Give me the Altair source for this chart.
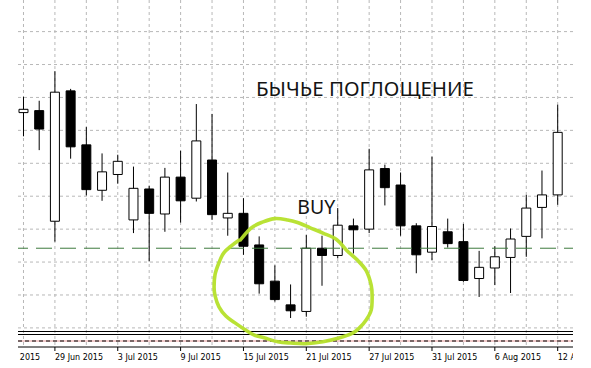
import altair as alt
import pandas as pd

# ---------------- data ----------------
dates = ["25 Jun", "26 Jun", "29 Jun", "30 Jun", "1 Jul", "2 Jul", "3 Jul", "6 Jul",
         "7 Jul", "8 Jul", "9 Jul", "10 Jul", "13 Jul", "14 Jul", "15 Jul", "16 Jul",
         "17 Jul", "20 Jul", "21 Jul", "22 Jul", "23 Jul", "24 Jul", "27 Jul", "28 Jul",
         "29 Jul", "30 Jul", "31 Jul", "3 Aug", "4 Aug", "5 Aug", "6 Aug", "7 Aug",
         "10 Aug", "11 Aug", "12 Aug"]
opens = [1.1127, 1.1130, 1.0962, 1.1160, 1.1078, 1.1009, 1.1033, 1.0964, 1.1011, 1.0973,
         1.1029, 1.0997, 1.1055, 1.0967, 1.0974, 1.0926, 1.0871, 1.0835, 1.0825, 1.0921,
         1.0910, 1.0955, 1.0950, 1.1042, 1.1017, 1.0955, 1.0915, 1.0946, 1.0931, 1.0875,
         1.0891, 1.0907, 1.0939, 1.0983, 1.1002]
highs = [1.1151, 1.1145, 1.1190, 1.1163, 1.1105, 1.1065, 1.1063, 1.1045, 1.1016, 1.1043,
         1.1069, 1.1140, 1.1125, 1.1036, 1.0997, 1.0939, 1.0895, 1.0866, 1.0941, 1.0940,
         1.0982, 1.0966, 1.1072, 1.1048, 1.1036, 1.0959, 1.1060, 1.0966, 1.0958, 1.0917,
         1.0924, 1.0951, 1.1002, 1.1039, 1.1139]
lows = [1.1091, 1.1070, 1.0931, 1.1057, 1.1001, 1.0993, 1.1019, 1.0944, 1.0901, 1.0946,
        1.0960, 1.0992, 1.0964, 1.0940, 1.0911, 1.0852, 1.0840, 1.0815, 1.0817, 1.0864,
        1.0906, 1.0913, 1.0944, 1.0986, 1.0940, 1.0883, 1.0903, 1.0922, 1.0870, 1.0847,
        1.0865, 1.0853, 1.0908, 1.0936, 1.0987]
closes = [1.1132, 1.1102, 1.1158, 1.1075, 1.1010, 1.1037, 1.1053, 1.1012, 1.0974, 1.1029,
          1.0993, 1.1084, 1.0972, 1.0974, 1.0924, 1.0867, 1.0843, 1.0826, 1.0921, 1.0910,
          1.0956, 1.0949, 1.1040, 1.1013, 1.0955, 1.0911, 1.0954, 1.0928, 1.0872, 1.0892,
          1.0908, 1.0935, 1.0982, 1.1002, 1.1097]

# date-axis labels (candle index of each label) and grid levels
label_pos = [-2, 2, 6, 10, 14, 18, 22, 26, 30, 34]
label_text = ["23 Jun 2015", "29 Jun 2015", "3 Jul 2015", "9 Jul 2015", "15 Jul 2015",
              "21 Jul 2015", "27 Jul 2015", "31 Jul 2015", "6 Aug 2015", "12 Aug 2015"]
grid_pos = [0, 2, 4, 6, 8, 10, 12, 14, 16, 18, 20, 22, 24, 26, 28, 30, 32, 34]
price_grid = [1.080, 1.085, 1.090, 1.095, 1.100, 1.105, 1.110, 1.115, 1.120, 1.125]

support_level = [1.0921]

# hand-drawn highlight loop (candle index, price)
loop_x = [13.75, 14.5, 15.25, 16.0, 16.81, 17.44, 18.25, 19.06, 19.94, 20.56, 21.25,
          21.81, 22.13, 22.19, 22.13, 21.81, 21.38, 20.94, 20.13, 19.06, 17.94, 17.0,
          16.19, 15.31, 14.69, 14.06, 13.44, 12.88, 12.44, 12.19, 12.13, 12.19, 12.44,
          12.75, 13.25, 13.75]
loop_y = [1.0932, 1.0952, 1.0961, 1.0966, 1.0964, 1.0960, 1.0952, 1.0944, 1.0934, 1.0918,
          1.0903, 1.0887, 1.0865, 1.0847, 1.0827, 1.0812, 1.0800, 1.0792, 1.0785, 1.0779,
          1.0776, 1.0777, 1.0779, 1.0785, 1.0789, 1.0798, 1.0808, 1.0818, 1.0832, 1.0849,
          1.0862, 1.0881, 1.0899, 1.0914, 1.0925, 1.0934]

title_text = "БЫЧЬЕ ПОГЛОЩЕНИЕ"
buy_text = "BUY"

# ---------------- tables ----------------
df = pd.DataFrame({"idx": list(range(len(dates))), "date": dates,
                   "o": opens, "h": highs, "l": lows, "c": closes})
vgrid_df = pd.DataFrame({"g": grid_pos})
hgrid_df = pd.DataFrame({"p": price_grid})
lab_df = pd.DataFrame({"pos": label_pos, "txt": label_text})
sup_df = pd.DataFrame({"price": support_level})
loop_df = pd.DataFrame({"lx": loop_x, "ly": loop_y, "seq": list(range(len(loop_x)))})
one = pd.DataFrame({"k": [0]})

W, H = 555, 347
xscale = alt.Scale(domain=[-0.03125, 34.65625], nice=False, zero=False)
yscale = alt.Scale(domain=[1.0771, 1.1298], nice=False, zero=False)


def X(field):
    return alt.X(field, type="quantitative", scale=xscale, axis=None)


def Y(field):
    return alt.Y(field, type="quantitative", scale=yscale, axis=None)


GRID = "#b8b8b8"
vgrid = alt.Chart(vgrid_df).mark_rule(color=GRID, strokeWidth=1, strokeDash=[3, 3]).encode(
    x=X("g"), y=alt.value(0), y2=alt.value(H))
hgrid = alt.Chart(hgrid_df).mark_rule(color=GRID, strokeWidth=1, strokeDash=[3, 3]).encode(
    y=Y("p"))

wicks = alt.Chart(df).mark_rule(color="#000000", strokeWidth=1, clip=True).encode(
    x=X("idx"), y=Y("l"), y2="h")

bodies = alt.Chart(df).mark_bar(stroke="#000000", strokeWidth=1, size=9, clip=True).encode(
    x=X("idx"), y=Y("o"), y2="c",
    fill=alt.condition("datum.c > datum.o", alt.value("#ffffff"), alt.value("#000000")),
)

support = alt.Chart(sup_df).mark_rule(color="#3d7a3d", strokeWidth=1,
                                      strokeDash=[16, 8], strokeDashOffset=7).encode(
    y=Y("price"))


def hline(ypix, color, dash=None, width=1):
    kw = dict(color=color, strokeWidth=width)
    if dash:
        kw["strokeDash"] = dash
    return alt.Chart(one).mark_rule(**kw).encode(
        x=alt.value(0), x2=alt.value(W), y=alt.value(ypix))


sub_lines = [
    hline(331.5, "#000000"),
    hline(334.5, "#000000"),
    hline(341, "#e79a9a"),
    hline(341, "#000000", dash=[4, 3]),
    hline(347, "#000000"),          # time-axis line
]

# time axis: ticks and labels placed through the x scale
ticks = alt.Chart(lab_df).mark_rule(color="#000000", strokeWidth=1).encode(
    x=X("pos"), y=alt.value(347), y2=alt.value(351))
labels = alt.Chart(lab_df).mark_text(font="DejaVu Sans", fontSize=8, color="#000000",
                                     align="left", baseline="alphabetic").encode(
    x=X("pos"), y=alt.value(359.5), text="txt:N")

loop = alt.Chart(loop_df).mark_line(color="#b5e02a", strokeWidth=3.6,
                                    interpolate="cardinal", opacity=0.95).encode(
    x=X("lx"), y=Y("ly"), order="seq:Q")

title = alt.Chart(one).mark_text(text=title_text, font="Noto Sans", fontSize=20.5,
                                 color="#141414", align="center",
                                 baseline="alphabetic").encode(
    x=alt.value(347), y=alt.value(95.5))
buy = alt.Chart(one).mark_text(text=buy_text, font="Noto Sans", fontSize=19.5,
                               color="#141414", align="center",
                               baseline="alphabetic").encode(
    x=alt.value(298.3), y=alt.value(214))

cover_left = alt.Chart(one).mark_rect(color="#ffffff").encode(
    x=alt.value(-18), x2=alt.value(0), y=alt.value(0), y2=alt.value(368))
cover_right = alt.Chart(one).mark_rect(color="#ffffff").encode(
    x=alt.value(W), x2=alt.value(W + 18), y=alt.value(0), y2=alt.value(368))

chart = alt.layer(
    vgrid, hgrid, wicks, bodies, support, *sub_lines, ticks, labels, loop, title, buy,
    cover_left, cover_right
).properties(
    width=W, height=H, autosize="none",
    padding={"left": 18, "top": 0, "right": 18, "bottom": 21},
    background="#ffffff",
).configure_view(stroke=None)

chart.save("out.html", embed_options={"renderer": "svg", "actions": False})
